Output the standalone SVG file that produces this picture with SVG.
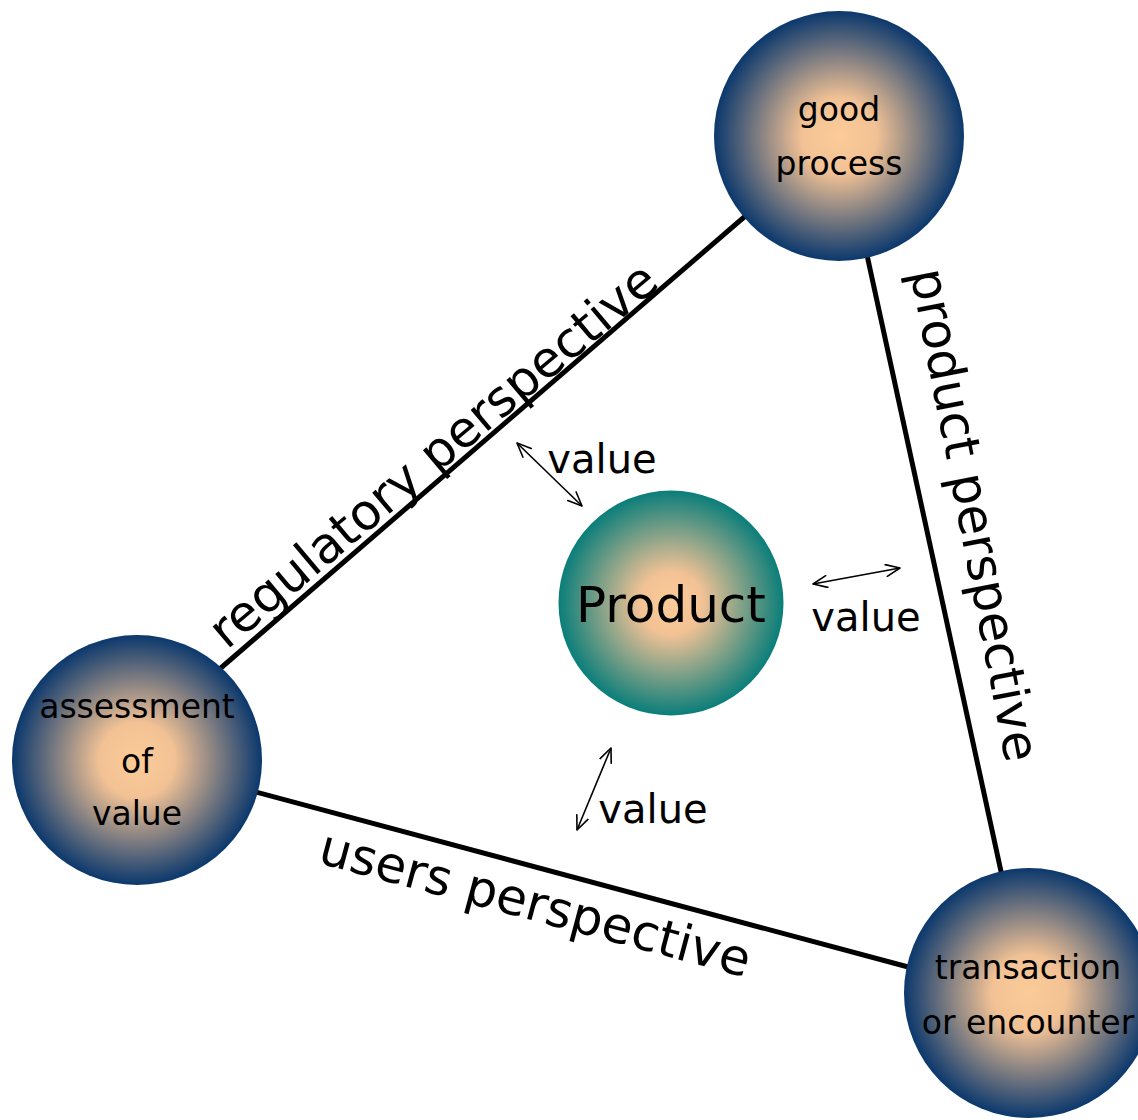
<svg xmlns="http://www.w3.org/2000/svg" width="1138" height="1120" viewBox="0 0 1138 1120">
  <style>
    text { font-family: 'Comic Sans MS', 'DejaVu Sans', sans-serif; fill: #000; }
    .node-label { font-size: 33px; text-anchor: middle; }
    .center-label { font-size: 50px; text-anchor: middle; }
    .edge-label { font-size: 50px; text-anchor: middle; }
    .value-label { font-size: 40px; text-anchor: middle; }
    .edge { stroke: #000; stroke-width: 5; fill: none; }
    .flow { stroke: #000; stroke-width: 1.6; fill: none; marker-start: url(#tip); marker-end: url(#tip); }
  </style>
  <defs>
    <radialGradient id="navyGlow" cx="0.5" cy="0.5" r="0.5">
      <stop offset="0" stop-color="#fccb98"/>
      <stop offset="0.3" stop-color="#f2c295"/>
      <stop offset="1" stop-color="#0b386d"/>
    </radialGradient>
    <radialGradient id="tealGlow" cx="0.5" cy="0.5" r="0.5">
      <stop offset="0" stop-color="#fccb98"/>
      <stop offset="0.28" stop-color="#f2c295"/>
      <stop offset="1" stop-color="#0a7e7a"/>
    </radialGradient>
    <marker id="tip" viewBox="0 0 16 14" refX="15" refY="7" markerWidth="16" markerHeight="14" markerUnits="userSpaceOnUse" orient="auto-start-reverse">
      <path d="M1,1 L15,7 L1,13" fill="none" stroke="#000" stroke-width="1.6" stroke-linecap="round" stroke-linejoin="round"/>
    </marker>
  </defs>

  <!-- triangle sides and value arrows -->
  <g id="connectors">
    <line class="edge" x1="750" y1="212" x2="215" y2="673"/>
    <line class="edge" x1="867" y1="255" x2="1002" y2="876"/>
    <line class="edge" x1="252" y1="791" x2="912" y2="968"/>

    <line class="flow" x1="517" y1="443" x2="582" y2="506"/>
    <line class="flow" x1="813" y1="584" x2="900" y2="568"/>
    <line class="flow" x1="611" y1="748" x2="577" y2="830"/>
  </g>

  <!-- side labels -->
  <g id="side-labels">
    <text class="edge-label" transform="translate(444,468) rotate(-40)">regulatory perspective</text>
    <text class="edge-label" transform="translate(958,518) rotate(79)">product perspective</text>
    <text class="edge-label" transform="translate(531,920) rotate(15)">users perspective</text>
  </g>

  <g id="value-labels">
    <text class="value-label" x="602" y="473">value</text>
    <text class="value-label" x="866" y="631">value</text>
    <text class="value-label" x="653" y="823">value</text>
  </g>

  <g id="good-process">
    <circle cx="839" cy="136" r="125" fill="url(#navyGlow)"/>
    <text class="node-label" x="839" y="121">good</text>
    <text class="node-label" x="839" y="175">process</text>
  </g>

  <g id="assessment-of-value">
    <circle cx="137" cy="760" r="125" fill="url(#navyGlow)"/>
    <text class="node-label" x="137" y="718">assessment</text>
    <text class="node-label" x="137" y="773">of</text>
    <text class="node-label" x="137" y="825">value</text>
  </g>

  <g id="transaction-or-encounter">
    <circle cx="1029" cy="993" r="125" fill="url(#navyGlow)"/>
    <text class="node-label" x="1028" y="979">transaction</text>
    <text class="node-label" x="1028" y="1034">or encounter</text>
  </g>

  <g id="product">
    <circle cx="671" cy="603" r="112.5" fill="url(#tealGlow)"/>
    <text class="center-label" x="671" y="622">Product</text>
  </g>
</svg>
